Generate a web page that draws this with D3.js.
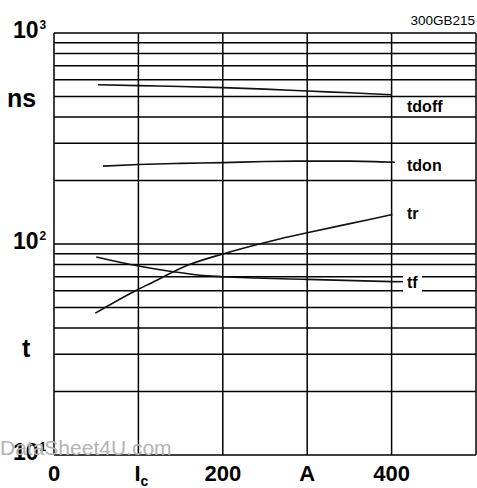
<!DOCTYPE html>
<html>
<head>
<meta charset="utf-8">
<script src="https://cdnjs.cloudflare.com/ajax/libs/d3/7.8.5/d3.min.js"></script>
<style>
  body { margin: 0; background: #fff; }
  svg { display: block; font-family: "Liberation Sans", Arial, sans-serif; }
</style>
</head>
<body>
<svg id="chart" width="477" height="488"></svg>
<script>
// collector current (A) and switching times (ns)
var tdoffIc = [52, 100, 150, 200, 250, 300, 350, 400];
var tdoffT  = [569, 563, 558, 551, 542, 531, 521, 510];

var tdonIc = [58, 100, 150, 200, 250, 300, 350, 404];
var tdonT  = [234, 238, 241, 243, 246, 247, 247, 244];

var trIc = [49, 100, 114, 159, 200, 260, 300, 371, 401];
var trT  = [47, 61, 65, 79.5, 89.7, 104, 113, 130, 138];

var tfIc = [50, 100, 141, 173, 200, 300, 400];
var tfT  = [86.8, 78.7, 73.9, 71.1, 70, 68, 66.3];

var xTicks = [0, 100, 200, 300, 400, 500];
var xTickLabels = ["0", "I", "200", "A", "400"];
var yDecades = [1000, 100, 10];
var yExponents = ["3", "2", "1"];

var svg = d3.select("#chart");
var x = d3.scaleLinear().domain([0, 500]).range([54, 476]);
var y = d3.scaleLog().domain([10, 1000]).range([455, 33]);

// log grid: 1..9 in every decade, plus the top
var yGrid = [];
[10, 100].forEach(function(d) {
  for (var k = 1; k <= 9; k++) yGrid.push(d * k);
});
yGrid.push(1000);

var grid = svg.append("g");
grid.selectAll("line.h")
  .data(yGrid)
  .enter()
  .append("line")
  .attr("x1", x(0))
  .attr("x2", x(500))
  .attr("y1", function(d) { return y(d); })
  .attr("y2", function(d) { return y(d); })
  .attr("stroke", "#000")
  .attr("stroke-width", 1.5);

grid.selectAll("line.v")
  .data(xTicks)
  .enter()
  .append("line")
  .attr("x1", function(d) { return x(d); })
  .attr("x2", function(d) { return x(d); })
  .attr("y1", y(1000))
  .attr("y2", y(10))
  .attr("stroke", "#000")
  .attr("stroke-width", 1.5);

// curves
var line = d3.line()
  .x(function(d) { return x(d[0]); })
  .y(function(d) { return y(d[1]); })
  .curve(d3.curveMonotoneX);

var series = [
  { ic: tdoffIc, t: tdoffT },
  { ic: tdonIc, t: tdonT },
  { ic: trIc, t: trT },
  { ic: tfIc, t: tfT }
];
series.forEach(function(s) {
  svg.append("path")
    .attr("d", line(d3.zip(s.ic, s.t)))
    .attr("fill", "none")
    .attr("stroke", "#111")
    .attr("stroke-width", 1.6);
});

// curve labels
var curveLabels = [
  { text: "tdoff", x: 407, y: 112 },
  { text: "tdon", x: 407, y: 171 },
  { text: "tr", x: 407, y: 219 },
  { text: "tf", x: 407, y: 288 }
];
// tf: leader line and white box behind the label
svg.append("rect")
  .attr("x", 403).attr("y", 272)
  .attr("width", 19).attr("height", 20)
  .attr("fill", "#fff");
svg.append("line")
  .attr("x1", x(tfIc[tfIc.length - 1])).attr("x2", 403)
  .attr("y1", y(tfT[tfT.length - 1])).attr("y2", y(tfT[tfT.length - 1]))
  .attr("stroke", "#111").attr("stroke-width", 1.6);

svg.selectAll("text.curve")
  .data(curveLabels)
  .enter()
  .append("text")
  .attr("x", function(d) { return d.x; })
  .attr("y", function(d) { return d.y; })
  .attr("font-size", 16)
  .attr("font-weight", "bold")
  .text(function(d) { return d.text; });

// y decade labels
yDecades.forEach(function(d, i) {
  var t = svg.append("text")
    .attr("x", 13)
    .attr("y", y(d) + 5)
    .attr("font-size", 23)
    .attr("font-weight", "bold")
    .text("10");
  t.append("tspan")
    .attr("font-size", 12)
    .attr("dy", -9)
    .attr("dx", 1)
    .text(yExponents[i]);
});

svg.append("text")
  .attr("x", 7).attr("y", 107)
  .attr("font-size", 25).attr("font-weight", "bold")
  .text("ns");
svg.append("text")
  .attr("x", 22).attr("y", 357)
  .attr("font-size", 25).attr("font-weight", "bold")
  .text("t");

// x labels
xTickLabels.forEach(function(lbl, i) {
  var t = svg.append("text")
    .attr("x", x(xTicks[i]))
    .attr("y", 481)
    .attr("font-size", 22)
    .attr("font-weight", "bold")
    .attr("text-anchor", lbl === "I" ? "start" : "middle")
    .text(lbl);
  if (lbl === "I") {
    t.attr("x", x(xTicks[i]) - 4);
    t.append("tspan").attr("font-size", 14).attr("dy", 5).text("c");
  }
});

svg.append("text")
  .attr("x", 475).attr("y", 25)
  .attr("text-anchor", "end")
  .attr("font-size", 13.5)
  .text("300GB215");

// watermark
svg.append("text")
  .attr("x", 0).attr("y", 455)
  .attr("font-size", 21)
  .attr("fill", "#b4b4b4")
  .text("DataSheet4U.com");
</script>
</body>
</html>
